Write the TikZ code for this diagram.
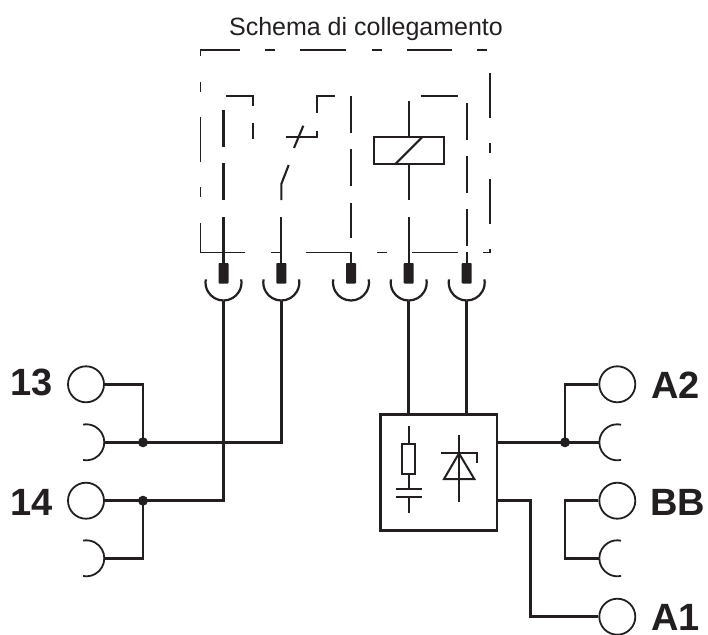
\documentclass[tikz,border=0pt]{standalone}
\usepackage{fontspec}
\setmainfont{Liberation Sans}
\definecolor{ink}{HTML}{231F20}
\tikzset{
  wire/.style={line width=2.7pt,line join=miter},
  inner/.style={line width=2.1pt},
  frame/.style={line width=1.4pt},
  boxline/.style={line width=2.2pt},
  term/.style={circle,draw=ink,line width=1.8pt,minimum size=36pt,inner sep=0pt},
  halfarc/.style={line width=1.8pt},
  cup/.style={line width=2.2pt},
  pin/.style={fill=ink,rounded corners=0.8pt},
  jdot/.style={circle,fill=ink,minimum size=10pt,inner sep=0pt},
  biglabel/.style={font=\fontsize{38}{38}\selectfont\bfseries,anchor=base west,inner sep=0pt,text=ink,text depth=0pt},
  title/.style={font=\fontsize{25}{26}\selectfont,anchor=base,inner sep=0pt,text=ink}
}
\begin{document}
\begin{tikzpicture}[x=1pt,y=-1pt,color=ink]
\useasboundingbox (0,0) rectangle (708,634);
\node[title] (ttl) at (366,36) {Schema di collegamento};
% outer dash-dot frame
\begin{scope}[frame]
\draw (200.3,56) -- (200.3,50) -- (239.5,50);
\draw (265,50) -- (275,50);
\draw (300,50) -- (346,50);
\draw (372,50) -- (382,50);
\draw (407,50) -- (452,50);
\draw (477,50) -- (487,50);
\draw (490,73) -- (490,118);
\draw (490,143) -- (490,153);
\draw (490,179) -- (490,224);
\draw (490,249) -- (490,252.3) -- (483,252.3);
\draw (458,252.3) -- (412,252.3);
\draw (387,252.3) -- (377,252.3);
\draw (351,252.3) -- (306,252.3);
\draw (281,252.3) -- (271,252.3);
\draw (245,252.3) -- (200.3,252.3) -- (200.3,223);
\draw (200.3,197) -- (200.3,187);
\draw (200.3,162) -- (200.3,117);
\draw (200.3,92) -- (200.3,82);
\end{scope}
% terminals
\coordinate (t1) at (223.5,263); \coordinate (t2) at (281.3,263);
\coordinate (t3) at (351,263);   \coordinate (t4) at (408.7,263);
\coordinate (t5) at (466.7,263);
\coordinate (u1) at (223.5,300.5); \coordinate (u2) at (281.3,300.5);
\coordinate (u3) at (351,300.5);   \coordinate (u4) at (408.7,300.5);
\coordinate (u5) at (466.7,300.5);
\foreach \n in {1,...,5}{
  \fill[pin] ([xshift=-5pt]t\n) rectangle ([xshift=5pt,yshift=-20.5pt]t\n);
  \draw[cup] (u\n) arc[start angle=270,end angle=170,radius=18pt];
  \draw[cup] (u\n) arc[start angle=270,end angle=370,radius=18pt];
}
% inner dashed conductors
\begin{scope}[inner]
\draw (226,96) -- (252.7,96) -- (252.7,106);
\draw (252.7,123) -- (252.7,139);
\draw (223.5,110) -- (223.5,147);
\draw (223.5,163) -- (223.5,200);
\draw (223.5,217) -- (t1);
\draw (281.3,217) -- (t2);
\draw (281.3,200) -- (281.3,184) -- (288.7,165);
\draw (294,148) -- (303.3,125.7);
\draw (285.7,136.7) -- (316.7,136.7) -- (316.7,130.7);
\draw (316.7,113) -- (316.7,96) -- (335,96);
\draw (351,96) -- (351,133);
\draw (351,149) -- (351,186);
\draw (351,203) -- (351,238);
\draw (351,252) -- (t3);
\draw (408.7,101) -- (408.7,136.7);
\draw (374,136.7) rectangle (444,164.3);
\draw (395,164.3) -- (422.7,136.7);
\draw (408.7,164.3) -- (408.7,200);
\draw (408.7,217) -- (t4);
\draw (420.7,96) -- (457.7,96);
\draw (466.7,103) -- (466.7,140);
\draw (466.7,156) -- (466.7,193);
\draw (466.7,209) -- (466.7,246);
\draw (466.7,252) -- (t5);
\end{scope}
% protective module
\node[draw=ink,boxline,minimum width=116.7pt,minimum height=116pt,inner sep=0pt,anchor=north west] (mod) at (379.3,413.3) {};
\coordinate (mt4) at (408.7,413.3); \coordinate (mt5) at (466.7,413.3);
\coordinate (mr1) at (496,442.3);   \coordinate (mr2) at (496,500.7);
\begin{scope}[line width=2pt]
\draw (408.7,426) -- (408.7,444);
\draw (402.3,444) rectangle (415,474.3);
\draw (408.7,474.3) -- (408.7,489);
\draw (395.7,489) -- (421.7,489);
\draw (395.7,496.7) -- (421.7,496.7);
\draw (408.7,496.7) -- (408.7,513.3);
\draw (459,435) -- (459,501.7);
\draw (476.7,462.7) -- (476.7,453.3) -- (440.7,453.3);
\draw[line join=miter] (459,453.3) -- (474.3,479) -- (444,479) -- cycle;
\end{scope}
% terminals, left
\node[term] (c13) at (86,384.3) {};
\node[term] (c14) at (86,500.7) {};
\coordinate (h13) at (104.3,442.3);
\coordinate (h14) at (104.3,558.3);
\draw[halfarc] (h13) arc[start angle=0,end angle=100,radius=18pt];
\draw[halfarc] (h13) arc[start angle=0,end angle=-100,radius=18pt];
\draw[halfarc] (h14) arc[start angle=0,end angle=100,radius=18pt];
\draw[halfarc] (h14) arc[start angle=0,end angle=-100,radius=18pt];
\node[jdot] (j13) at (143,442.3) {};
\node[jdot] (j14) at (143,500.7) {};
% terminals, right
\node[term] (ca2) at (617.3,384.3) {};
\node[term] (cbb) at (617.3,500.7) {};
\node[term] (ca1) at (617.3,616.7) {};
\coordinate (ha2) at (599.3,442.3);
\coordinate (hbb) at (599.3,558.3);
\draw[halfarc] (ha2) arc[start angle=180,end angle=78,radius=18pt];
\draw[halfarc] (ha2) arc[start angle=180,end angle=282,radius=18pt];
\draw[halfarc] (hbb) arc[start angle=180,end angle=78,radius=18pt];
\draw[halfarc] (hbb) arc[start angle=180,end angle=282,radius=18pt];
\node[jdot] (ja2) at (565,442.3) {};
% wires
\draw[wire] (u1) |- (c14.east);
\draw[wire] (u2) |- (h13);
\draw[wire] (u4) -- (mt4);
\draw[wire] (u5) -- (mt5);
\draw[wire] (c13.east) -| (j13.center);
\draw[wire] (j14.center) |- (h14);
\draw[wire] (mr1) -- (ha2);
\draw[wire] (ca2.west) -| (ja2.center);
\draw[wire] (cbb.west) -| (565,558.3) -- (hbb);
\draw[wire] (mr2) -| (530.7,616.7) -- (ca1.west);
% labels
\node[biglabel] (l13) at (10.5,395.7) {13};
\node[biglabel] (l14) at (10.5,515) {14};
\node[biglabel] (la2) at (651,398.3) {A2};
\node[biglabel] (lbb) at (650,515.7) {BB};
\node[biglabel] (la1) at (651,630.7) {A1};
\end{tikzpicture}
\end{document}
